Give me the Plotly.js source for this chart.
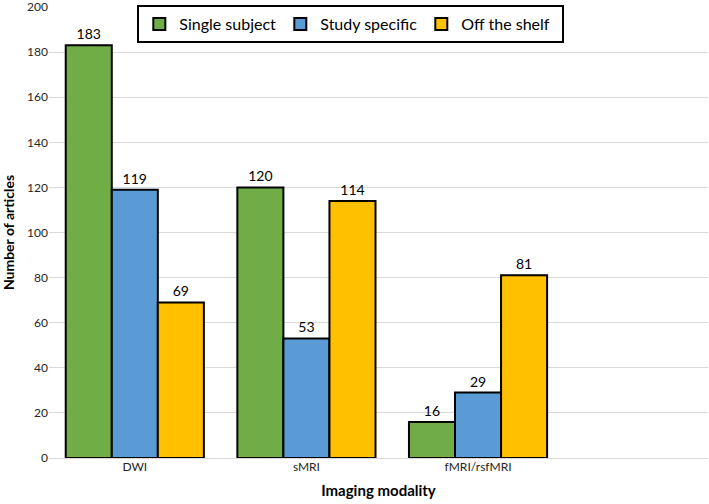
<!DOCTYPE html>
<html>
<head>
<meta charset="utf-8">
<script src="https://cdn.plot.ly/plotly-3.0.1.min.js"></script>
<style>html,body{margin:0;padding:0;background:#fff;}#chart{width:709px;height:504px;}</style>
</head>
<body>
<div id="chart"></div>
<script>
const categories = ["DWI", "sMRI", "fMRI/rsfMRI"];
const seriesNames = ["Single subject", "Study specific", "Off the shelf"];
const singleSubject = [183, 120, 16];
const studySpecific = [119, 53, 29];
const offTheShelf = [69, 114, 81];
const yTicks = [0, 20, 40, 60, 80, 100, 120, 140, 160, 180, 200];

const colors = ["#70AD47", "#5B9BD5", "#FFC000"];
const values = [singleSubject, studySpecific, offTheShelf];
const FONT = "Lato, 'Open Sans', sans-serif";

const traces = values.map((v, i) => ({
  type: "bar",
  name: seriesNames[i],
  x: categories,
  y: v,
  marker: {color: colors[i], line: {color: "#000", width: 2}},
  text: v.map(String),
  textposition: "outside",
  textfont: {size: 14, color: "#000", family: FONT},
  cliponaxis: false,
  hoverinfo: "none"
}));

const layout = {
  width: 709, height: 504,
  margin: {l: 49, r: 1, t: 7, b: 46},
  paper_bgcolor: "#fff", plot_bgcolor: "#fff",
  font: {family: FONT, color: "#262626"},
  barmode: "group",
  bargap: 0.195,
  bargroupgap: 0,
  showlegend: true,
  legend: {
    orientation: "h",
    x: 0.134, xanchor: "left",
    y: 1.004, yanchor: "top",
    bgcolor: "#fff",
    bordercolor: "#000",
    borderwidth: 2,
    font: {size: 16, color: "#000", family: FONT},
    entrywidth: 96,
    traceorder: "normal"
  },
  xaxis: {
    type: "category",
    range: [-0.5, 3.34],
    showgrid: false,
    zeroline: false,
    showline: false,
    ticks: "",
    tickfont: {size: 12, color: "#262626"},
    title: {text: "Imaging modality", font: {size: 15, color: "#000", family: FONT, weight: "bold"}, standoff: 12}
  },
  yaxis: {
    range: [0, 200],
    tickvals: yTicks,
    ticklabeloverflow: "allow",
    showgrid: true,
    gridcolor: "#d9d9d9",
    gridwidth: 1,
    zeroline: true,
    zerolinecolor: "#d9d9d9",
    zerolinewidth: 1,
    showline: false,
    ticks: "",
    ticklen: 0,
    tickfont: {size: 12, color: "#262626"},
    title: {text: "Number of articles", font: {size: 14, color: "#000", family: FONT, weight: "bold"}, standoff: 12}
  }
};

Plotly.newPlot("chart", traces, layout, {staticPlot: true, displayModeBar: false});
</script>
</body>
</html>
